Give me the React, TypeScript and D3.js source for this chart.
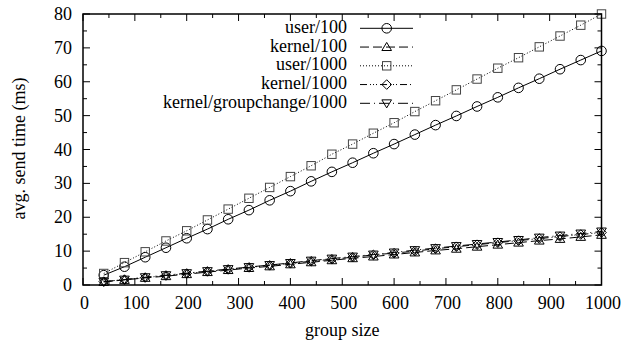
import * as d3 from "d3"

// group sizes sampled every 40
const groupSizes = [40, 80, 120, 160, 200, 240, 280, 320, 360, 400, 440, 480, 520, 560, 600, 640, 680, 720, 760, 800, 840, 880, 920, 960, 1000]

const user100 = [2.9, 5.4, 8.2, 11.0, 13.8, 16.5, 19.4, 22.1, 25.0, 27.7, 30.6, 33.4, 36.1, 38.9, 41.6, 44.4, 47.2, 49.9, 52.7, 55.4, 58.2, 60.9, 63.7, 66.4, 69.1]
const kernel100 = [0.9, 1.5, 2.1, 2.6, 3.2, 3.8, 4.4, 5.0, 5.5, 6.1, 6.7, 7.3, 7.9, 8.4, 9.0, 9.6, 10.2, 10.7, 11.3, 11.9, 12.5, 13.1, 13.6, 14.2, 14.8]
const user1000 = [3.4, 6.6, 9.8, 13.0, 16.0, 19.2, 22.4, 25.6, 28.8, 32.0, 35.2, 38.6, 41.6, 44.8, 47.9, 51.2, 54.4, 57.6, 60.8, 64.0, 67.1, 70.3, 73.5, 76.7, 80.0]
const kernel1000 = [1.0, 1.6, 2.2, 2.8, 3.4, 4.0, 4.6, 5.2, 5.8, 6.4, 7.0, 7.6, 8.2, 8.9, 9.4, 10.0, 10.7, 11.3, 11.9, 12.5, 13.1, 13.7, 14.3, 14.9, 15.5]
const groupchange1000 = [1.0, 1.6, 2.3, 2.9, 3.5, 4.1, 4.7, 5.3, 5.9, 6.5, 7.2, 7.8, 8.4, 9.0, 9.6, 10.3, 10.9, 11.5, 12.1, 12.7, 13.3, 14.0, 14.6, 15.2, 15.8]

const seriesNames = ["user/100", "kernel/100", "user/1000", "kernel/1000", "kernel/groupchange/1000"]
const seriesValues = [user100, kernel100, user1000, kernel1000, groupchange1000]
const dashes = ["none", "9,4", "1,2", "7,3,1,2,1,2,1,3", "10,4,1,4"]
const markers = ["circle", "triangle", "square", "diamond", "triangleDown"]

const xTicks = [0, 100, 200, 300, 400, 500, 600, 700, 800, 900, 1000]
const yTicks = [0, 10, 20, 30, 40, 50, 60, 70, 80]

const W = 632
const H = 343
const FONT = "Liberation Serif"

function Marker({ kind, x, y }: { kind: string; x: number; y: number }) {
  const s = { fill: "none", stroke: "#000", strokeWidth: 1 }
  if (kind === "circle") return <circle cx={x} cy={y} r={4.8} {...s} />
  if (kind === "square") return <rect x={x - 4.2} y={y - 4.2} width={8.4} height={8.4} {...s} stroke="#444" />
  if (kind === "diamond") {
    const r = 4.8
    return <path d={`M${x},${y - r}L${x + r},${y}L${x},${y + r}L${x - r},${y}Z`} {...s} />
  }
  // triangles, up or down
  const h = 4.6
  const dir = kind === "triangleDown" ? -1 : 1
  return (
    <path
      d={`M${x},${y - dir * h}L${x + h * 1.05},${y + dir * h * 0.75}L${x - h * 1.05},${y + dir * h * 0.75}Z`}
      {...s}
    />
  )
}

export default function App() {
  const x = d3.scaleLinear().domain([0, 1000]).range([83, 601.5])
  const y = d3.scaleLinear().domain([0, 80]).range([285, 14])
  const [x0, x1] = x.range()
  const [y0, y1] = y.range()

  const line = d3.line<number>()
    .x((_, i) => x(groupSizes[i]))
    .y(d => y(d))

  const xMinor = d3.range(0, 1001, 50).filter(v => v % 100 !== 0)
  const yMinor = d3.range(0, 81, 5).filter(v => v % 10 !== 0)

  return (
    <svg width={W} height={H} style={{ position: "absolute", left: 0, top: 0, background: "#fff" }}>
      {/* ticks, mirrored on all sides, pointing inward */}
      <g stroke="#000" strokeWidth={1}>
        {xTicks.map(t => (
          <g key={"xt" + t}>
            <line x1={x(t)} x2={x(t)} y1={y0} y2={y0 - 7} />
            <line x1={x(t)} x2={x(t)} y1={y1} y2={y1 + 7} />
          </g>
        ))}
        {xMinor.map(t => (
          <g key={"xm" + t}>
            <line x1={x(t)} x2={x(t)} y1={y0} y2={y0 - 4} />
            <line x1={x(t)} x2={x(t)} y1={y1} y2={y1 + 4} />
          </g>
        ))}
        {yTicks.map(t => (
          <g key={"yt" + t}>
            <line x1={x0} x2={x0 + 7} y1={y(t)} y2={y(t)} />
            <line x1={x1} x2={x1 - 7} y1={y(t)} y2={y(t)} />
          </g>
        ))}
        {yMinor.map(t => (
          <g key={"ym" + t}>
            <line x1={x0} x2={x0 + 4} y1={y(t)} y2={y(t)} />
            <line x1={x1} x2={x1 - 4} y1={y(t)} y2={y(t)} />
          </g>
        ))}
      </g>

      {/* series */}
      {seriesValues.map((vals, si) => (
        <g key={seriesNames[si]}>
          <path d={line(vals)!} fill="none" stroke="#000" strokeWidth={1} strokeDasharray={dashes[si]} />
          {vals.map((v, i) => (
            <Marker key={i} kind={markers[si]} x={x(groupSizes[i])} y={y(v)} />
          ))}
        </g>
      ))}

      <rect x={x0} y={y1} width={x1 - x0} height={y0 - y1} fill="none" stroke="#000" strokeWidth={1.5} />

      {/* tick labels */}
      <g fontSize={18} fill="#000" style={{ fontFamily: FONT }}>
        {xTicks.map(t => (
          <text key={"xl" + t} x={x(t) + 1.5} y={308.5} textAnchor="middle">{t}</text>
        ))}
        {yTicks.map(t => (
          <text key={"yl" + t} x={72} y={y(t) + 6} textAnchor="end">{t}</text>
        ))}
        <text x={(x0 + x1) / 2} y={336} textAnchor="middle">group size</text>
        <text transform={`translate(24.5,${(y0 + y1) / 2 - 1}) rotate(-90)`} textAnchor="middle">avg. send time (ms)</text>
      </g>

      {/* legend */}
      <g fontSize={18} style={{ fontFamily: FONT }}>
        {seriesNames.map((name, i) => {
          const ly = 28.3 + i * 18.75
          return (
            <g key={"lg" + name}>
              <text x={347} y={ly + 4.5} textAnchor="end">{name}</text>
              <line x1={360} x2={413} y1={ly} y2={ly} stroke="#000" strokeWidth={1} strokeDasharray={dashes[i]} />
              <Marker kind={markers[i]} x={386.7} y={ly} />
            </g>
          )
        })}
      </g>
    </svg>
  )
}
